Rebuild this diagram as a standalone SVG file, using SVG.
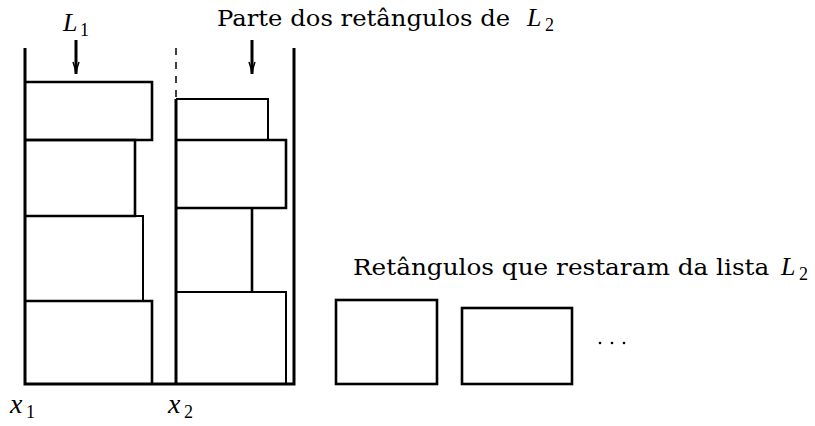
<svg xmlns="http://www.w3.org/2000/svg" width="815" height="426" viewBox="0 0 815 426">
<style>
text{font-family:'DejaVu Serif','Liberation Serif',serif;font-size:21.5px;fill:#000}
.i{font-family:'Liberation Serif','DejaVu Serif',serif;font-style:italic;font-size:26px}
.x{font-family:'Liberation Serif','DejaVu Serif',serif;font-style:italic;font-size:28px}
.s{font-family:'Liberation Serif','DejaVu Serif',serif;font-size:18px}
.w{stroke:#000;stroke-width:3;fill:none}
.r{stroke:#000;stroke-width:2.6;fill:none}
.rt{stroke:#000;stroke-width:2;fill:none}
.ah{stroke:#000;stroke-width:1.5;fill:none}
</style>
<rect width="815" height="426" fill="#fff"/>
<g id="bin">
<path class="w" d="M25,48 V384 H294 V48"/>
<line x1="176" y1="48" x2="176" y2="99" stroke="#000" stroke-width="1.5" stroke-dasharray="7,7"/>
<line class="w" x1="176" y1="99" x2="176" y2="384"/>
</g>
<g id="L1-rects">
<path class="r" d="M25,82 H152 V140 H25"/>
<path class="r" d="M25,140 H135 V216 H25"/>
<path class="rt" d="M25,216 H143 V301"/>
<path class="r" d="M25,301 H152 V384"/>
</g>
<g id="L2-rects">
<path class="rt" d="M176,99 H268 V140"/>
<path class="r" d="M176,140 H286 V208 H176"/>
<path class="r" d="M252,208 V292"/>
<path class="rt" d="M176,292 H286 V384"/>
</g>
<g id="remaining">
<rect class="r" x="336" y="300" width="101" height="84"/>
<rect class="r" x="462" y="308" width="110" height="76"/>
<circle cx="600" cy="343" r="1.3"/>
<circle cx="612" cy="343" r="1.3"/>
<circle cx="624" cy="343" r="1.3"/>
</g>
<g id="arrows">
<line x1="76" y1="40" x2="76" y2="74" stroke="#000" stroke-width="3"/>
<path class="ah" d="M73,62 Q75,67 76,74 Q77,67 79,62"/>
<line x1="252" y1="40" x2="252" y2="74" stroke="#000" stroke-width="3"/>
<path class="ah" d="M249,62 Q251,67 252,74 Q253,67 255,62"/>
</g>
<g id="labels">
<text class="i" x="63" y="31">L</text>
<text class="s" x="80" y="36">1</text>
<text transform="translate(217,26) scale(1.13,1)">Parte dos retângulos de</text>
<text class="i" x="527" y="26">L</text>
<text class="s" x="545" y="31">2</text>
<text transform="translate(353,275) scale(1.15,1)">Retângulos que restaram da lista</text>
<text class="i" x="781" y="275">L</text>
<text class="s" x="799" y="280">2</text>
<text class="x" x="10" y="413">x</text>
<text class="s" x="26" y="418">1</text>
<text class="x" x="168" y="413">x</text>
<text class="s" x="184" y="418">2</text>
</g>
</svg>
